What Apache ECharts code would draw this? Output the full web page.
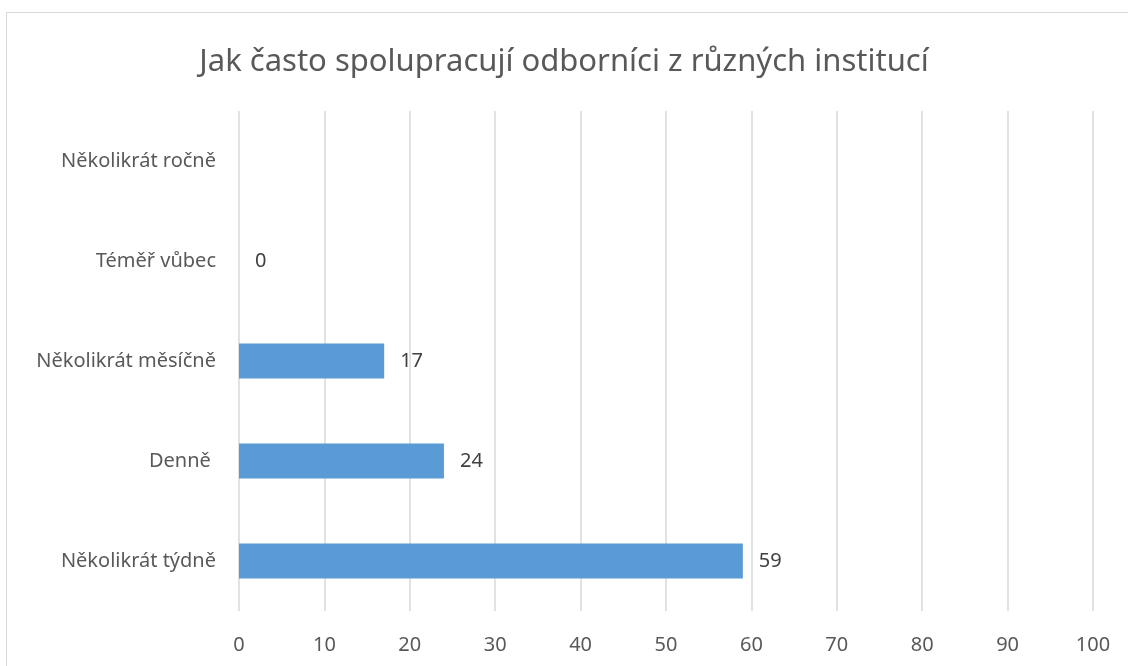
<!DOCTYPE html>
<html>
<head>
<meta charset="utf-8">
<script src="https://cdn.jsdelivr.net/npm/echarts@6/dist/echarts.min.js"></script>
<style>
  html, body { margin: 0; padding: 0; background: #fff; }
  #frame {
    position: absolute; left: 6px; top: 12px; width: 1140px; height: 680px;
    border: 1.5px solid #d9d9d9; box-sizing: border-box;
  }
  #chart { position: absolute; left: 0; top: 0; width: 1128px; height: 666px; }
</style>
</head>
<body>
<div id="frame"></div>
<div id="chart"></div>
<script>
// kategorie odspodu nahoru
const categories = ['Několikrát týdně', 'Denně ', 'Několikrát měsíčně', 'Téměř vůbec', 'Několikrát ročně']
const values = [59, 24, 17, 0, null]
const titleText = 'Jak často spolupracují odborníci z různých institucí'

const font = '"Noto Sans", "Open Sans", sans-serif'

const chart = echarts.init(document.getElementById('chart'))

chart.setOption({
  animation: false,
  title: {
    text: titleText,
    left: 'center',
    top: 42,
    textStyle: { fontFamily: font, fontSize: 31, fontWeight: 'normal', color: '#595959' }
  },
  grid: { left: 239, right: 35, top: 111, bottom: 55 },
  xAxis: {
    type: 'value',
    min: 0,
    max: 100,
    interval: 10,
    axisLine: { show: false },
    axisTick: { show: false },
    splitLine: { lineStyle: { color: '#d9d9d9', width: 1.5 } },
    axisLabel: { fontFamily: font, fontSize: 20, color: '#595959', margin: 24 }
  },
  yAxis: {
    type: 'category',
    data: categories,
    axisLine: { show: false },
    axisTick: { show: false },
    axisLabel: { fontFamily: font, fontSize: 20, color: '#595959', margin: 23 }
  },
  series: [{
    type: 'bar',
    data: values,
    barWidth: 35,
    itemStyle: { color: '#5b9bd5' },
    label: {
      show: true,
      position: 'right',
      distance: 16,
      fontFamily: font,
      fontSize: 20,
      color: '#404040'
    }
  }]
})
</script>
</body>
</html>
